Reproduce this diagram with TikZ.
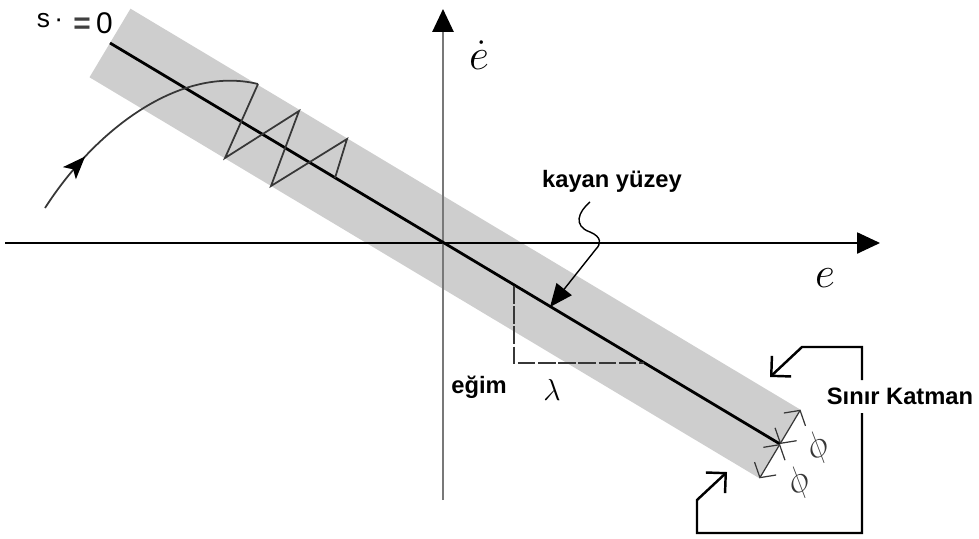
\documentclass[tikz,border=0pt]{standalone}
\usepackage{fontspec}
\setmainfont{Liberation Sans}
\usetikzlibrary{arrows.meta,decorations.markings}
\definecolor{bandgray}{RGB}{206,206,206}
\definecolor{midline}{RGB}{55,55,55}
\definecolor{axisgray}{RGB}{120,120,120}
\begin{document}
\begin{tikzpicture}[x=0.02cm,y=-0.02cm,
  lbl/.style={font=\fontsize{13.5}{14}\selectfont\bfseries, inner sep=0pt},
  mathlbl/.style={inner sep=0pt},
  axisline/.style={line width=0.9pt, -{Triangle[length=13pt,width=12pt]}},
  zig/.style={midline, line width=1pt, line join=miter},
  slopedash/.style={midline, line width=0.7pt, dash pattern=on 10pt off 1.5pt},
  bracket/.style={black, line width=1.4pt, line join=miter, -{Straight Barb[angle'=90,length=8pt,line width=1.4pt]}},
  dimarrow/.style={midline, line width=0.7pt, {Straight Barb[angle'=100,length=6pt]}-{Straight Barb[angle'=100,length=6pt]}}
]
\useasboundingbox (0,0) rectangle (979,538);

% coordinates
\coordinate (S) at (110,43);
\coordinate (E) at (780,444);
\coordinate (A1) at (89.5,77.3);
\coordinate (A2) at (130.5,8.7);
\coordinate (B2) at (800.5,409.7);
\coordinate (B1) at (759.5,478.3);

% band
\fill[bandgray] (A1) -- (A2) -- (B2) -- (B1) -- cycle;

% axes
\coordinate (xl) at (5,243);
\coordinate (xr) at (880,243);
\coordinate (yb) at (443,500);
\coordinate (yt) at (443,9);
\draw[axisline, black] (xl) -- (xr);
\draw[axisgray, line width=1.2pt, -{Triangle[length=13pt,width=12pt,color=black]}] (yb) -- (yt);

% sliding line
\draw[black, line width=1.6pt] (S) -- (E);

% slope triangle
\coordinate (t1) at (514,286);
\coordinate (t2) at (514,363);
\coordinate (t3) at (644,363);
\draw[slopedash] (t1) -- (t2) -- (t3);

% trajectory
\coordinate (c0) at (45,208);
\coordinate (z0) at (258,84);
\coordinate (z1) at (225,158);
\coordinate (z2) at (299,111);
\coordinate (z3) at (271,186);
\coordinate (z4) at (347,139);
\coordinate (z5) at (335,178);
\draw[zig, postaction={decorate}, decoration={markings, mark=at position 0.25 with {\arrow[black]{Stealth[length=13pt,width=10pt,inset=3pt]}}}]
  (c0) .. controls (95,130) and (180,65) .. (z0);
\draw[zig] (z0) -- (z1) -- (z2) -- (z3) -- (z4) -- (z5);

% labels
\node[inner sep=0pt, anchor=base] (s1) at (50,27) {\fontsize{15}{15}\selectfont s\,·};
\node[inner sep=0pt, anchor=base] (s2) at (93,33) {\fontsize{17}{17}\selectfont {\color{darkgray}\textbf{=}}\hspace{3pt}0};
\node[mathlbl] (edot) at (479,55) {\fontsize{24.88}{25}\selectfont $\dot e$};
\node[mathlbl] (ex) at (825,278) {\fontsize{24.88}{25}\selectfont $e$};
\node[mathlbl] (lam) at (552,390) {\fontsize{17.28}{18}\selectfont $\lambda$};
\node[lbl] (egim) at (479,387) {eğim};
\node[lbl] (kayan) at (612,181) {kayan yüzey};
\node[lbl] (sinir) at (900,396) {Sınır Katman};

% kayan yuzey pointer
\coordinate (k0) at (590,202);
\coordinate (ktip) at (550,307);
\draw[black, line width=0.8pt, -{Triangle[length=13pt,width=11pt]}]
  (k0) .. controls (578,212) and (573,226) .. (590,232)
  .. controls (602,237) and (601,244) .. (596,249) -- (ktip);

% boundary layer brackets
\coordinate (u0) at (862,380);
\coordinate (u1) at (862,347);
\coordinate (u2) at (802,347);
\coordinate (u3) at (770,377);
\draw[bracket] (u0) -- (u1) -- (u2) -- (u3);
\coordinate (d0) at (862,413);
\coordinate (d1) at (862,533);
\coordinate (d2) at (697,533);
\coordinate (d3) at (697,500);
\coordinate (d4) at (727,472);
\draw[bracket] (d0) -- (d1) -- (d2) -- (d3) -- (d4);

% thickness arrows
\draw[dimarrow] (E) -- (B2);
\draw[dimarrow] (E) -- (B1);
\node[mathlbl, midline, rotate=35] (phi1) at (818,448) {\fontsize{20.74}{21}\selectfont $\phi$};
\node[mathlbl, midline, rotate=35] (phi2) at (799,483) {\fontsize{20.74}{21}\selectfont $\phi$};
\end{tikzpicture}
\end{document}
